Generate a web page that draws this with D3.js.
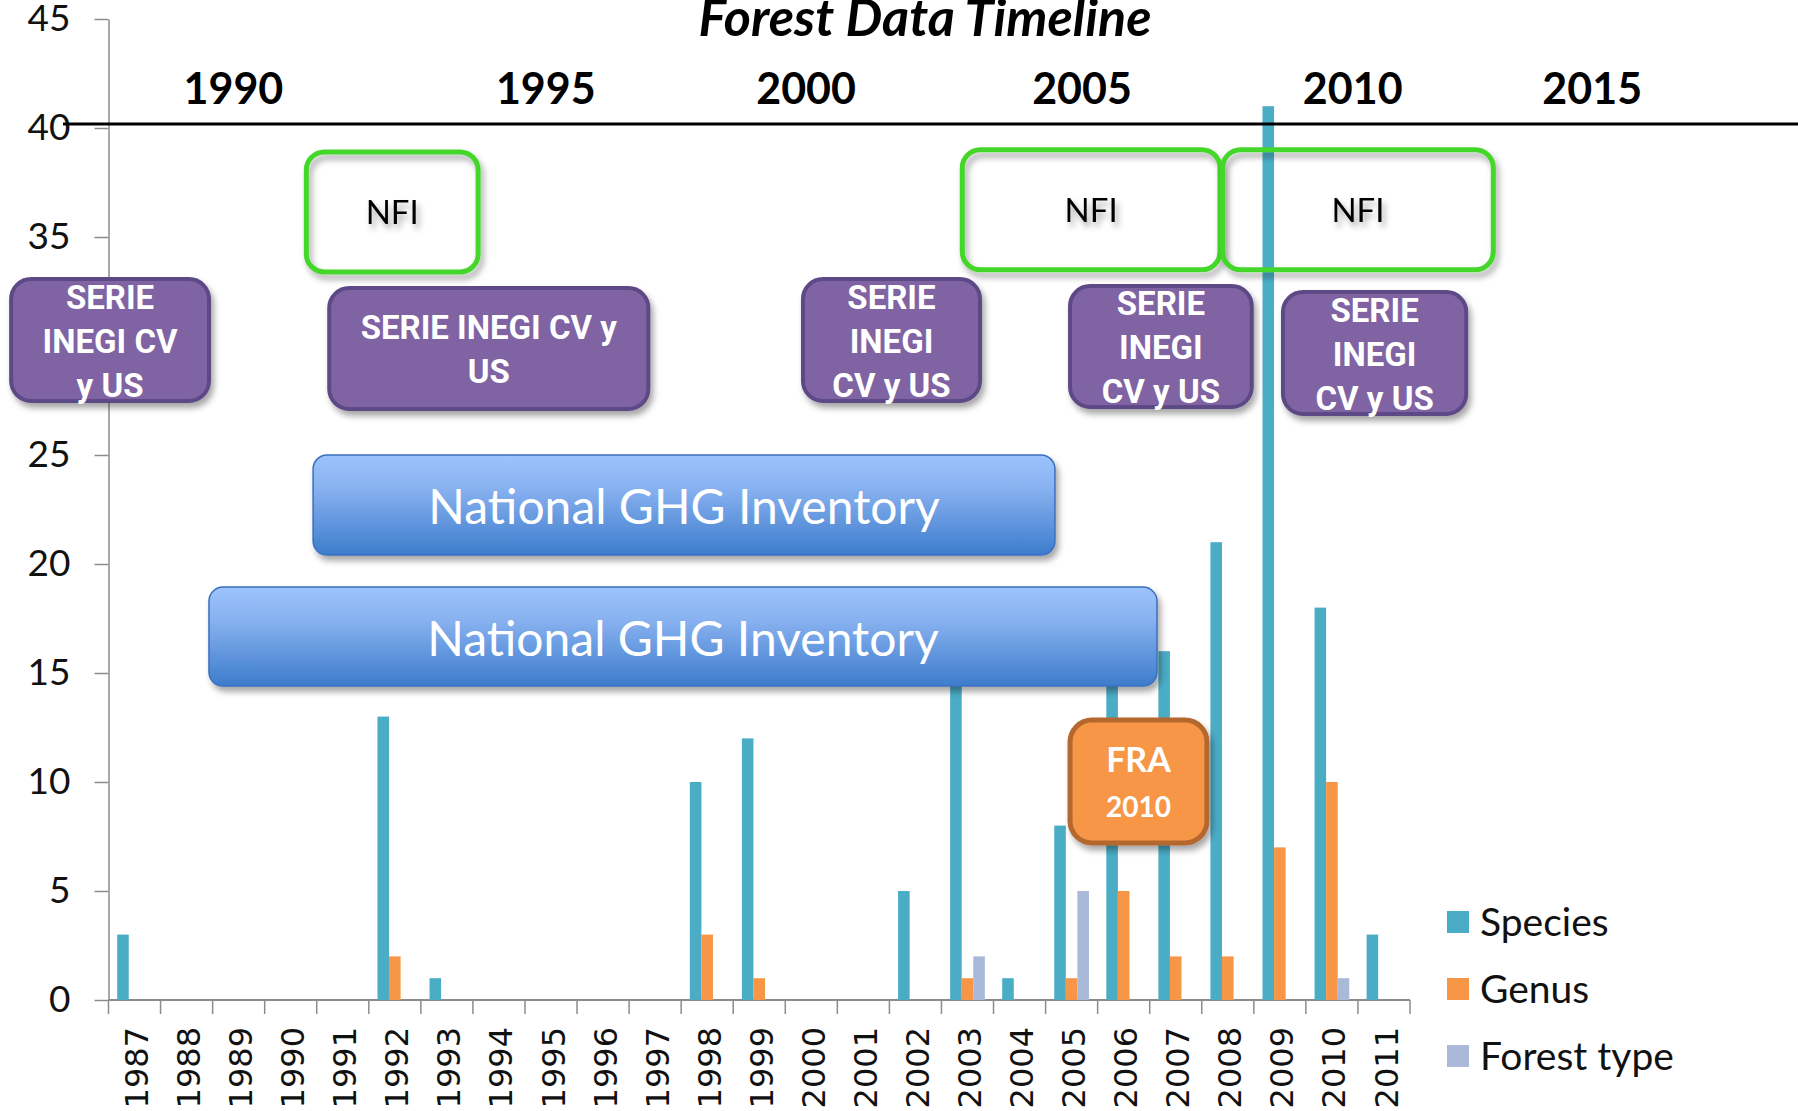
<!DOCTYPE html>
<html>
<head>
<meta charset="utf-8">
<script src="https://cdn.jsdelivr.net/npm/d3@7"></script>
<style>
  html, body { margin: 0; padding: 0; background: #fff; }
  svg { display: block; }
  text { font-family: Lato, "Noto Sans", sans-serif; }
</style>
</head>
<body>
<svg id="chart" width="1798" height="1111"></svg>
<script>
// ---- data ----
const years = ["1987","1988","1989","1990","1991","1992","1993","1994","1995","1996","1997","1998","1999",
  "2000","2001","2002","2003","2004","2005","2006","2007","2008","2009","2010","2011"];
const species    = [3,0,0,0,0,13,1,0,0,0,0,10,12,0,0,5,16,1,8,17,16,21,41,18,3];
const genus      = [0,0,0,0,0,2,0,0,0,0,0,3,1,0,0,0,1,0,1,5,2,2,7,10,0];
const forestType = [0,0,0,0,0,0,0,0,0,0,0,0,0,0,0,0,2,0,5,0,0,0,0,1,0];
const seriesNames  = ["Species", "Genus", "Forest type"];
const seriesColors = ["#4bacc6", "#f79646", "#aab9d8"];
const yTicks = [0, 5, 10, 15, 20, 25, 30, 35, 40, 45];

// timeline overlay (positions given in year / value units of the chart)
const timelineLabels = ["1990", "1995", "2000", "2005", "2010", "2015"];
const timelineAt     = [1988.9, 1994.9, 1999.9, 2005.2, 2010.4, 2015.0];
const nfiSpans   = [[1990.3, 1993.6, 38.9, 33.4], [2002.9, 2007.85, 39.0, 33.5], [2007.9, 2013.1, 39.0, 33.5]];
const serieSpans = [[1984.63, 1988.43, 33.07, 27.48], [1990.74, 1996.87, 32.66, 27.11],
  [1999.84, 2003.24, 33.07, 27.48], [2004.97, 2008.46, 32.75, 27.2], [2009.06, 2012.58, 32.48, 26.88]];
const serieLines = [["SERIE", "INEGI CV", "y US"], ["SERIE INEGI CV y", "US"],
  ["SERIE", "INEGI", "CV y US"], ["SERIE", "INEGI", "CV y US"], ["SERIE", "INEGI", "CV y US"]];
const ghgSpans = [[1990.43, 2004.68, 25.0, 20.41], [1988.43, 2006.64, 18.94, 14.4]];
const fraSpan  = [2004.97, 2007.6, 12.84, 7.2];

const svg = d3.select("#chart");
const plotLeft = 108.5, plotRight = 1410, plotTop = 19, plotBottom = 1000;

const x0 = d3.scaleBand().domain(years).range([plotLeft, plotRight]).padding(0);
const x1 = d3.scaleBand().domain(seriesNames)
  .range([x0.bandwidth() / 6, x0.bandwidth() * 5 / 6]);
const y = d3.scaleLinear().domain([0, 45]).range([plotBottom, plotTop]);
// year -> x, for the pasted timeline shapes
const yearX = d3.scaleLinear().domain([1986.5, 2011.5]).range([plotLeft, plotRight]);

const defs = svg.append("defs");
const shadow = defs.append("filter").attr("id", "shadow")
  .attr("x", "-10%").attr("y", "-10%").attr("width", "125%").attr("height", "135%");
shadow.append("feDropShadow").attr("dx", 3).attr("dy", 5).attr("stdDeviation", 3)
  .attr("flood-color", "#000").attr("flood-opacity", 0.35);
const grad = defs.append("linearGradient").attr("id", "ghg")
  .attr("x1", 0).attr("y1", 0).attr("x2", 0).attr("y2", 1);
grad.append("stop").attr("offset", "0%").attr("stop-color", "#9cc3fc");
grad.append("stop").attr("offset", "35%").attr("stop-color", "#86b0ef");
grad.append("stop").attr("offset", "100%").attr("stop-color", "#3d7ccc");

// ---- axes ----
const yAxis = svg.append("g")
  .attr("transform", `translate(${plotLeft},0)`)
  .call(d3.axisLeft(y).tickValues(yTicks).tickSize(14).tickSizeOuter(0).tickPadding(24));
yAxis.select(".domain").attr("stroke", "#8c8c8c").attr("stroke-width", 1.5);
yAxis.selectAll(".tick line").attr("stroke", "#8c8c8c").attr("stroke-width", 1.5);
yAxis.selectAll(".tick text")
  .style("font-family", "Lato, sans-serif").style("font-size", "37px").attr("fill", "#111");

svg.append("line")
  .attr("x1", plotLeft).attr("x2", plotRight).attr("y1", plotBottom).attr("y2", plotBottom)
  .attr("stroke", "#8c8c8c").attr("stroke-width", 2);
svg.append("g").selectAll("line")
  .data(d3.range(years.length + 1))
  .join("line")
  .attr("x1", i => plotLeft + i * x0.step()).attr("x2", i => plotLeft + i * x0.step())
  .attr("y1", plotBottom).attr("y2", plotBottom + 14)
  .attr("stroke", "#8c8c8c").attr("stroke-width", 1.5);
svg.append("g").selectAll("text")
  .data(years)
  .join("text")
  .attr("transform", d => `translate(${x0(d) + x0.bandwidth() / 2 + 2},${plotBottom + 27}) rotate(-90)`)
  .attr("text-anchor", "end")
  .attr("dy", "0.36em")
  .style("font-family", "'DejaVu Sans', sans-serif")
  .style("font-size", "32px")
  .attr("fill", "#111")
  .text(d => d);

// ---- bars ----
const rows = years.map((yr, i) => ({ yr, vals: [species[i], genus[i], forestType[i]] }));
svg.append("g").selectAll("g")
  .data(rows)
  .join("g")
  .attr("transform", d => `translate(${x0(d.yr)},0)`)
  .selectAll("rect")
  .data(d => d.vals.map((v, k) => ({ k, v })).filter(e => e.v > 0))
  .join("rect")
  .attr("x", e => x1(seriesNames[e.k]))
  .attr("width", x1.bandwidth())
  .attr("y", e => y(e.v))
  .attr("height", e => y(0) - y(e.v))
  .attr("fill", e => seriesColors[e.k]);

// ---- overlay boxes ----
function box(span, r) {
  return svg.append("g").attr("filter", "url(#shadow)")
    .append("rect")
    .attr("x", yearX(span[0])).attr("width", yearX(span[1]) - yearX(span[0]))
    .attr("y", y(span[2])).attr("height", y(span[3]) - y(span[2]))
    .attr("rx", r).attr("ry", r);
}
function mid(span) {
  return [(yearX(span[0]) + yearX(span[1])) / 2, (y(span[2]) + y(span[3])) / 2];
}

nfiSpans.forEach(s => {
  box(s, 18).attr("fill", "none").attr("stroke", "#44d62c").attr("stroke-width", 5);
  const [cx, cy] = mid(s);
  svg.append("text").attr("x", cx).attr("y", cy).attr("dy", "0.36em")
    .attr("text-anchor", "middle").attr("filter", "url(#shadow)")
    .style("font-size", "33px").attr("fill", "#000").text("NFI");
});

serieSpans.forEach((s, i) => {
  box(s, 20).attr("fill", "#8064a2").attr("stroke", "#5d4886").attr("stroke-width", 4);
  const [cx, cy] = mid(s);
  const lines = serieLines[i];
  svg.append("g").selectAll("text")
    .data(lines)
    .join("text")
    .attr("x", cx)
    .attr("y", (d, j) => cy + 1 + (j - (lines.length - 1) / 2) * 44)
    .attr("dy", "0.36em")
    .attr("text-anchor", "middle")
    .style("font-family", "Roboto, 'Liberation Sans Narrow', sans-serif")
    .style("font-weight", "bold")
    .style("font-size", "33px")
    .attr("fill", "#fff")
    .text(d => d);
});

ghgSpans.forEach(s => {
  box(s, 14).attr("fill", "url(#ghg)").attr("stroke", "#3b6fc0").attr("stroke-width", 1.5);
  const [cx, cy] = mid(s);
  svg.append("text").attr("x", cx).attr("y", cy + 2).attr("dy", "0.36em")
    .attr("text-anchor", "middle")
    .style("font-size", "48px").attr("fill", "#fff").text("National GHG Inventory");
});

box(fraSpan, 22).attr("fill", "#f79646").attr("stroke", "#b5672f").attr("stroke-width", 5);
{
  const [cx, cy] = mid(fraSpan);
  svg.append("text").attr("x", cx).attr("y", cy - 22).attr("dy", "0.36em")
    .attr("text-anchor", "middle").style("font-weight", "bold").style("font-size", "34px")
    .attr("fill", "#fff").text("FRA");
  svg.append("text").attr("x", cx).attr("y", cy + 25).attr("dy", "0.36em")
    .attr("text-anchor", "middle").style("font-weight", "bold").style("font-size", "28px")
    .attr("fill", "#fff").text("2010");
}

// ---- timeline band and title ----
svg.append("line")
  .attr("x1", 63).attr("x2", 1798).attr("y1", 124).attr("y2", 124)
  .attr("stroke", "#000").attr("stroke-width", 3);
svg.append("g").selectAll("text")
  .data(timelineLabels)
  .join("text")
  .attr("x", (d, i) => yearX(timelineAt[i]))
  .attr("y", 104)
  .attr("text-anchor", "middle")
  .style("font-weight", "bold").style("font-size", "43px")
  .attr("fill", "#000")
  .text(d => d);

svg.append("text")
  .attr("x", 925).attr("y", 36)
  .attr("text-anchor", "middle")
  .style("font-weight", "bold").style("font-style", "italic").style("font-size", "52px")
  .attr("fill", "#000")
  .text("Forest Data Timeline");

// ---- legend ----
const legend = svg.append("g").attr("transform", "translate(1447,922)");
const item = legend.selectAll("g")
  .data(seriesNames)
  .join("g")
  .attr("transform", (d, i) => `translate(0,${i * 67})`);
item.append("rect")
  .attr("x", 0).attr("y", -11).attr("width", 22).attr("height", 22)
  .attr("fill", (d, i) => seriesColors[i]);
item.append("text")
  .attr("x", 33).attr("dy", "0.36em")
  .style("font-size", "39px").attr("fill", "#111")
  .text(d => d);
</script>
</body>
</html>
